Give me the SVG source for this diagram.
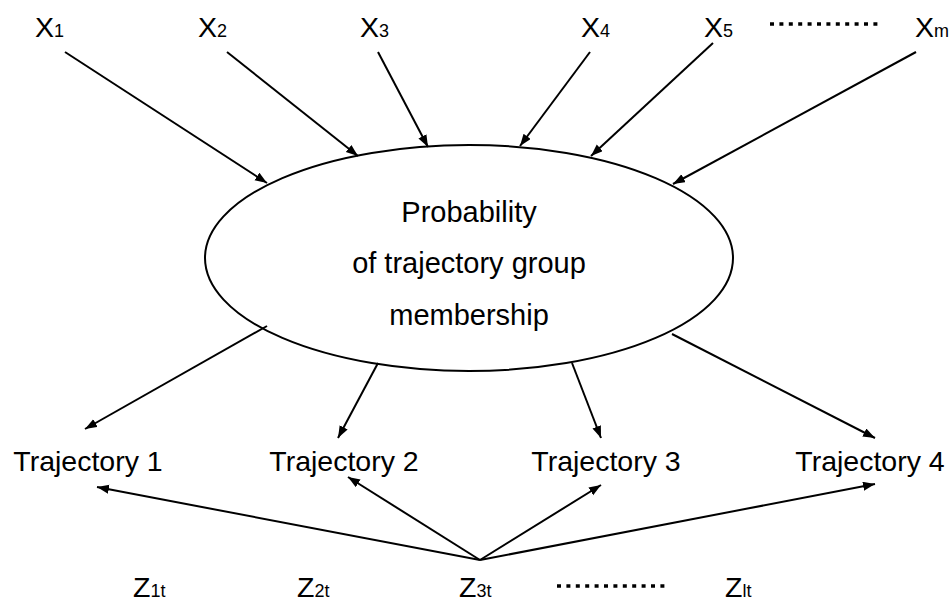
<svg xmlns="http://www.w3.org/2000/svg" width="951" height="603" viewBox="0 0 951 603">
<defs>
<marker id="ah" markerUnits="userSpaceOnUse" markerWidth="13" markerHeight="10" refX="12" refY="4.5" orient="auto">
<path d="M0,0 L12,4.5 L0,9 z" fill="#000"/>
</marker>
<style>
.t{font-family:"Liberation Sans",Arial,sans-serif;font-size:28.5px;fill:#000}
.e{font-size:29px}
.s{font-size:18px}
.c{stroke:#000;stroke-width:2;fill:none;marker-end:url(#ah)}
.dots{stroke:#000;stroke-width:3.5;stroke-dasharray:4 5.4;fill:none}
</style>
</defs>
<rect width="951" height="603" fill="#fff"/>
<g id="inputs">
<g id="x1"><text class="t" x="35" y="37">X<tspan class="s">1</tspan></text></g>
<g id="x2"><text class="t" x="198" y="37">X<tspan class="s">2</tspan></text></g>
<g id="x3"><text class="t" x="360" y="37">X<tspan class="s">3</tspan></text></g>
<g id="x4"><text class="t" x="581" y="37">X<tspan class="s">4</tspan></text></g>
<g id="x5"><text class="t" x="704" y="37">X<tspan class="s">5</tspan></text></g>
<g id="xdots"><line class="dots" x1="770" y1="24" x2="880" y2="24"/></g>
<g id="xm"><text class="t" x="915" y="37">X<tspan class="s">m</tspan></text></g>
</g>
<g id="prob">
<ellipse cx="469" cy="258" rx="264" ry="113" fill="#fff" stroke="#000" stroke-width="2"/>
<text class="t e" x="469" y="222" text-anchor="middle">Probability</text>
<text class="t e" x="469" y="273" text-anchor="middle">of trajectory group</text>
<text class="t e" x="469" y="325" text-anchor="middle">membership</text>
</g>
<g id="traj1"><text class="t" x="88" y="471" text-anchor="middle">Trajectory 1</text></g>
<g id="traj2"><text class="t" x="344" y="471" text-anchor="middle">Trajectory 2</text></g>
<g id="traj3"><text class="t" x="606" y="471" text-anchor="middle">Trajectory 3</text></g>
<g id="traj4"><text class="t" x="870" y="471" text-anchor="middle">Trajectory 4</text></g>
<g id="covariates">
<g id="z1"><text class="t" x="133" y="597">Z<tspan class="s">1t</tspan></text></g>
<g id="z2"><text class="t" x="297" y="597">Z<tspan class="s">2t</tspan></text></g>
<g id="z3"><text class="t" x="459" y="597">Z<tspan class="s">3t</tspan></text></g>
<g id="zdots"><line class="dots" x1="557" y1="586" x2="667" y2="586"/></g>
<g id="zl"><text class="t" x="725" y="597">Z<tspan class="s">lt</tspan></text></g>
</g>
<g id="connectors">
<line class="c" x1="65" y1="52" x2="267" y2="183"/>
<line class="c" x1="227" y1="52" x2="358" y2="156"/>
<line class="c" x1="378" y1="52" x2="428" y2="147"/>
<line class="c" x1="590" y1="52" x2="520" y2="146"/>
<line class="c" x1="713" y1="43" x2="591" y2="156"/>
<line class="c" x1="916" y1="52" x2="673" y2="184"/>
<line class="c" x1="267" y1="326" x2="85" y2="429"/>
<line class="c" x1="378" y1="363" x2="338" y2="438"/>
<line class="c" x1="572" y1="363" x2="601" y2="438"/>
<line class="c" x1="672" y1="334" x2="875" y2="438"/>
<line class="c" x1="480" y1="560" x2="97" y2="487"/>
<line class="c" x1="480" y1="560" x2="348" y2="477"/>
<line class="c" x1="480" y1="560" x2="601" y2="485"/>
<line class="c" x1="480" y1="560" x2="875" y2="484"/>
</g>
</svg>
